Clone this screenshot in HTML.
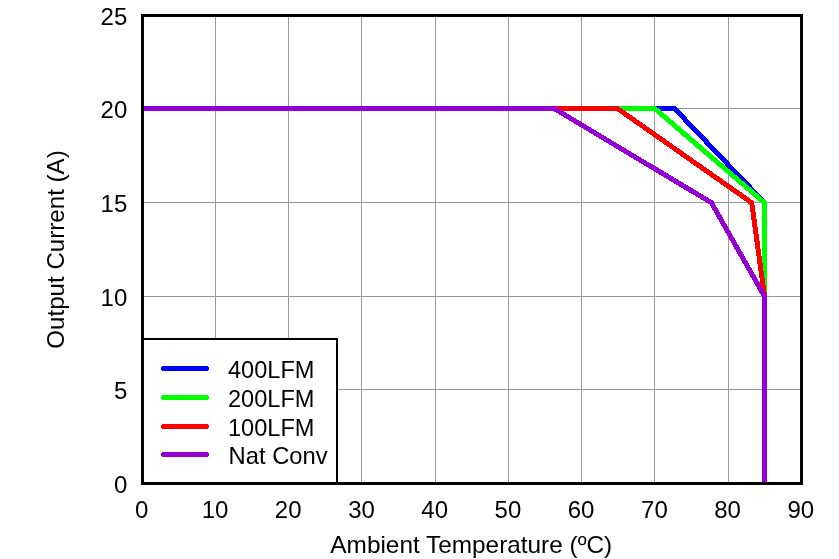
<!DOCTYPE html>
<html lang="en">
<head>
<meta charset="utf-8">
<title>Output Current vs Ambient Temperature</title>
<style>
html,body{margin:0;padding:0;background:#fff;}
body{width:839px;height:559px;overflow:hidden;}
svg{display:block;}
text{font-family:"Liberation Sans",Arial,Helvetica,sans-serif;font-size:24px;fill:#000;}
</style>
</head>
<body>
<svg width="839" height="559" viewBox="0 0 839 559">
<rect x="0" y="0" width="839" height="559" fill="#ffffff"/>

<g shape-rendering="crispEdges" fill="#999999">
<rect x="215" y="16" width="1" height="467"/>
<rect x="288" y="16" width="1" height="467"/>
<rect x="361" y="16" width="1" height="467"/>
<rect x="435" y="16" width="1" height="467"/>
<rect x="508" y="16" width="1" height="467"/>
<rect x="581" y="16" width="1" height="467"/>
<rect x="654" y="16" width="1" height="467"/>
<rect x="728" y="16" width="1" height="467"/>
<rect x="143" y="389" width="659" height="1"/>
<rect x="143" y="296" width="659" height="1"/>
<rect x="143" y="202" width="659" height="1"/>
<rect x="143" y="108" width="659" height="1"/>
</g>
<g fill="none" stroke-width="5" stroke-linejoin="miter" stroke-linecap="butt" shape-rendering="crispEdges">
<polyline stroke="#0000ff" points="142.5,108.5 674.5,108.5 764.5,202.7 764.5,296.3 764.5,483.5"/>
<polyline stroke="#00ff00" points="142.5,108.5 654.7,108.5 764.5,202.7 764.5,296.3 764.5,483.5"/>
<polyline stroke="#ff0000" points="142.5,108.5 617.4,108.5 751.7,202.7 764.5,296.3 764.5,483.5"/>
<polyline stroke="#9400d3" points="142.5,108.5 554.2,108.5 711.4,202.7 764.5,296.3 764.5,483.5"/>
</g>
<g shape-rendering="crispEdges">
<rect x="142" y="339" width="195" height="145" fill="#ffffff" stroke="#000" stroke-width="2"/>
</g>
<rect x="142.5" y="15.5" width="659" height="468" fill="none" stroke="#000" stroke-width="3" shape-rendering="crispEdges"/>
<path d="M162 366 h46 v1 h1 v3 h-1 v1 h-46 v-1 h-1 v-3 h1 z" fill="#0000ff" shape-rendering="crispEdges"/>
<text x="228.0" y="377.8" textLength="86.5" lengthAdjust="spacingAndGlyphs">400LFM</text>
<path d="M162 395 h46 v1 h1 v3 h-1 v1 h-46 v-1 h-1 v-3 h1 z" fill="#00ff00" shape-rendering="crispEdges"/>
<text x="228.0" y="406.8" textLength="86.5" lengthAdjust="spacingAndGlyphs">200LFM</text>
<path d="M162 424 h46 v1 h1 v3 h-1 v1 h-46 v-1 h-1 v-3 h1 z" fill="#ff0000" shape-rendering="crispEdges"/>
<text x="228.0" y="435.8" textLength="86.5" lengthAdjust="spacingAndGlyphs">100LFM</text>
<path d="M162 452 h46 v1 h1 v3 h-1 v1 h-46 v-1 h-1 v-3 h1 z" fill="#9400d3" shape-rendering="crispEdges"/>
<text x="228.6" y="463.8" textLength="99.0" lengthAdjust="spacingAndGlyphs">Nat Conv</text>
<text x="127.3" y="25" text-anchor="end">25</text>
<text x="127.3" y="118" text-anchor="end">20</text>
<text x="127.3" y="212" text-anchor="end">15</text>
<text x="127.3" y="306" text-anchor="end">10</text>
<text x="127.3" y="399" text-anchor="end">5</text>
<text x="127.3" y="493" text-anchor="end">0</text>
<text x="141.8" y="518" text-anchor="middle">0</text>
<text x="215.0" y="518" text-anchor="middle">10</text>
<text x="288.2" y="518" text-anchor="middle">20</text>
<text x="361.5" y="518" text-anchor="middle">30</text>
<text x="434.7" y="518" text-anchor="middle">40</text>
<text x="507.9" y="518" text-anchor="middle">50</text>
<text x="581.1" y="518" text-anchor="middle">60</text>
<text x="654.4" y="518" text-anchor="middle">70</text>
<text x="727.6" y="518" text-anchor="middle">80</text>
<text x="800.8" y="518" text-anchor="middle">90</text>
<text x="471.3" y="553" text-anchor="middle" textLength="281.9" lengthAdjust="spacingAndGlyphs">Ambient Temperature (ºC)</text>
<text transform="translate(64,249.5) rotate(-90)" text-anchor="middle" textLength="198.4" lengthAdjust="spacingAndGlyphs">Output Current (A)</text>
</svg>
</body>
</html>
